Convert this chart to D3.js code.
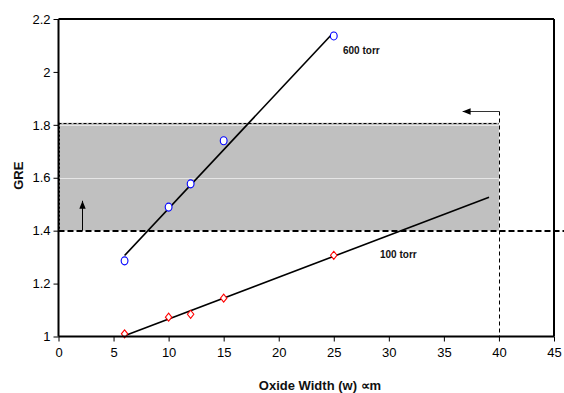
<!DOCTYPE html>
<html>
<head>
<meta charset="utf-8">
<script src="https://cdn.jsdelivr.net/npm/d3@7"></script>
<style>
  body { margin: 0; background: #fff; }
  svg { font-family: "Liberation Sans", Arial, sans-serif; }
</style>
</head>
<body>
<div id="canvas"></div>
<script>
// data
const widths = [6, 10, 12, 15, 25];
const gre600 = [1.286, 1.489, 1.577, 1.74, 2.136];
const gre100 = [1.01, 1.073, 1.084, 1.145, 1.307];
const fit600 = [[6, 1.306], [25, 2.15]];
const fit100 = [[6, 1.003], [39.1, 1.526]];
const xTicks = [0, 5, 10, 15, 20, 25, 30, 35, 40, 45];
const yTicks = [1, 1.2, 1.4, 1.6, 1.8, 2, 2.2];
const gridVals = [1.6, 1.8];
const band = { x0: 0, x1: 40, y0: 1.4, y1: 1.808 };
const threshold = 1.4;
const leftArrow = { x0: 40, x1: 36.7, y: 1.852 };
const upArrow = { x: 2.16, y0: 1.4, y1: 1.513 };

const W = 564, H = 393;
const margin = { left: 58.5, right: 10, top: 19, bottom: 56.5 };

const x = d3.scaleLinear().domain([0, 45]).range([margin.left, W - margin.right]);
const y = d3.scaleLinear().domain([1, 2.2]).range([H - margin.bottom, margin.top]);
// snap thin lines to the pixel grid
const crisp = v => Math.round(v) + 0.5;

const svg = d3.select("#canvas").append("svg")
  .attr("width", W).attr("height", H);

const defs = svg.append("defs");
defs.append("marker").attr("id", "ah")
  .attr("viewBox", "0 0 10 10").attr("refX", 10).attr("refY", 5)
  .attr("markerWidth", 8).attr("markerHeight", 8)
  .attr("markerUnits", "userSpaceOnUse")
  .attr("orient", "auto")
  .append("path").attr("d", "M0,1 L10,5 L0,9 Z").attr("fill", "#000");

// shaded band
svg.append("rect")
  .attr("x", x(band.x0)).attr("y", y(band.y1))
  .attr("width", x(band.x1) - x(band.x0)).attr("height", y(band.y0) - y(band.y1))
  .attr("fill", "#c0c0c0");

// gridlines (white, only show over the band)
svg.selectAll("line.grid").data(gridVals).enter().append("line")
  .attr("class", "grid")
  .attr("x1", x(band.x0)).attr("x2", x(band.x1))
  .attr("y1", d => crisp(y(d))).attr("y2", d => crisp(y(d)))
  .attr("stroke", "#e6e6e6").attr("stroke-width", 1);

// band dashed borders
svg.append("line")
  .attr("x1", x(band.x0)).attr("x2", x(band.x1))
  .attr("y1", crisp(y(band.y1))).attr("y2", crisp(y(band.y1)))
  .attr("stroke", "#000").attr("stroke-width", 1).attr("stroke-dasharray", "3,2");
svg.append("line")
  .attr("x1", crisp(x(band.x0))).attr("x2", crisp(x(band.x0)))
  .attr("y1", y(band.y1)).attr("y2", y(band.y0))
  .attr("stroke", "#000").attr("stroke-width", 1).attr("stroke-dasharray", "2,2");
svg.append("line")
  .attr("x1", crisp(x(band.x1))).attr("x2", crisp(x(band.x1)))
  .attr("y1", crisp(y(leftArrow.y))).attr("y2", y(1))
  .attr("stroke", "#000").attr("stroke-width", 1).attr("stroke-dasharray", "4,3");

// arrows
svg.append("line")
  .attr("x1", crisp(x(leftArrow.x0))).attr("x2", x(leftArrow.x1))
  .attr("y1", crisp(y(leftArrow.y))).attr("y2", crisp(y(leftArrow.y)))
  .attr("stroke", "#333").attr("stroke-width", 1).attr("marker-end", "url(#ah)");
svg.append("line")
  .attr("x1", crisp(x(upArrow.x))).attr("x2", crisp(x(upArrow.x)))
  .attr("y1", y(upArrow.y0)).attr("y2", y(upArrow.y1))
  .attr("stroke", "#000").attr("stroke-width", 1).attr("marker-end", "url(#ah)");

// threshold dashed line, runs off the right edge
svg.append("line")
  .attr("x1", x(0)).attr("x2", W)
  .attr("y1", Math.round(y(threshold))).attr("y2", Math.round(y(threshold)))
  .attr("stroke", "#000").attr("stroke-width", 2).attr("stroke-dasharray", "6,3");

// plot frame
svg.append("line")
  .attr("x1", x(0)).attr("x2", x(45)).attr("y1", y(2.2)).attr("y2", y(2.2))
  .attr("stroke", "#000").attr("stroke-width", 2);
svg.append("line")
  .attr("x1", x(45)).attr("x2", x(45)).attr("y1", y(2.2)).attr("y2", y(1))
  .attr("stroke", "#000").attr("stroke-width", 2);

// trend lines
const lineGen = d3.line().x(d => x(d[0])).y(d => y(d[1]));
[fit600, fit100].forEach(f => {
  svg.append("path").attr("d", lineGen(f))
    .attr("fill", "none").attr("stroke", "#000").attr("stroke-width", 1.6);
});

// markers
svg.selectAll("ellipse.s600").data(widths).enter().append("ellipse")
  .attr("class", "s600")
  .attr("cx", d => x(d)).attr("cy", (d, i) => y(gre600[i]))
  .attr("rx", 3.4).attr("ry", 4)
  .attr("fill", "#fff").attr("stroke", "#0000ff").attr("stroke-width", 1.1);

svg.selectAll("path.s100").data(widths).enter().append("path")
  .attr("class", "s100")
  .attr("transform", (d, i) => `translate(${x(d)},${y(gre100[i])})`)
  .attr("d", "M0,-4 L3.2,0 L0,4 L-3.2,0 Z")
  .attr("fill", "#fff").attr("stroke", "#ff0000").attr("stroke-width", 1.1);

// axes
const xAxis = svg.append("g")
  .attr("transform", `translate(0,${y(1)})`)
  .call(d3.axisBottom(x).tickValues(xTicks).tickSize(5).tickPadding(6).tickFormat(d3.format("d")));
const yAxis = svg.append("g")
  .attr("transform", `translate(${x(0)},0)`)
  .call(d3.axisLeft(y).tickValues(yTicks).tickSize(5).tickPadding(3).tickFormat(d => d3.format("")(+d.toFixed(1))));

[xAxis, yAxis].forEach(g => {
  g.select(".domain").attr("stroke", "#000").attr("stroke-width", 2);
  g.selectAll(".tick line").attr("stroke", "#000").attr("stroke-width", 1);
  g.selectAll(".tick text").attr("fill", "#000")
    .style("font-size", "13px").style("font-family", "Liberation Sans, Arial, sans-serif");
});
xAxis.select(".domain").attr("d", `M${x(0)},0H${x(45)}`);
yAxis.select(".domain").attr("d", `M0,${y(1)}V${y(2.2)}`);

// labels
svg.append("text").attr("x", 343).attr("y", 54)
  .style("font-size", "10px").style("font-weight", "bold").attr("fill", "#111")
  .text("600 torr");
svg.append("text").attr("x", 380).attr("y", 257.5)
  .style("font-size", "10px").style("font-weight", "bold").attr("fill", "#111")
  .text("100 torr");

svg.append("text")
  .attr("transform", `translate(22.5,${(y(1) + y(2.2)) / 2 - 2}) rotate(-90)`)
  .attr("text-anchor", "middle")
  .style("font-size", "13px").style("font-weight", "bold").attr("fill", "#111")
  .text("GRE");

svg.append("text").attr("x", 320).attr("y", 390)
  .attr("text-anchor", "middle")
  .style("font-size", "13px").style("font-weight", "bold").attr("fill", "#111")
  .text("Oxide Width (w) \u221Dm");
</script>
</body>
</html>
